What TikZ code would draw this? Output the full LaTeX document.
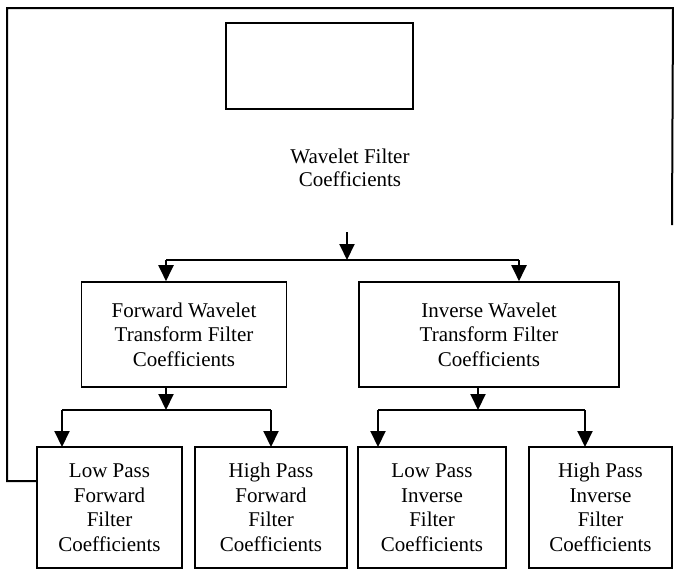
\documentclass[tikz,border=0pt]{standalone}
\usepackage{fontspec}
\setmainfont{Liberation Serif}
\usetikzlibrary{arrows.meta, positioning, calc}

\begin{document}
\begin{tikzpicture}[
    x=1pt, y=-1pt,
    blk/.style={draw, line width=1.6pt, align=center, inner sep=0pt, minimum height=121pt,
      font=\fontsize{21}{24.5}\selectfont},
    arr/.style={-{Triangle[length=16pt, width=15pt]}, line width=2pt},
    loop/.style={line width=2pt}
]
\useasboundingbox (0,0) rectangle (674,571);

% top block and its label
\node[blk, minimum width=187pt, minimum height=86pt] (src) at (319.5,66) {};
\node[align=center, font=\fontsize{21}{23}\selectfont] (wfc) at (350,168) {Wavelet Filter\\Coefficients};

% second level
\node[blk, minimum width=205pt, minimum height=105pt] (fwd) at (184,334.5) {Forward Wavelet\\Transform Filter\\Coefficients};
\node[blk, minimum width=260pt, minimum height=105pt] (inv) at (489,334.5) {Inverse Wavelet\\Transform Filter\\Coefficients};

% bottom level
\node[blk, minimum width=145pt] (lpf) at (109.5,507.5) {Low Pass\\Forward\\Filter\\Coefficients};
\node[blk, minimum width=152pt] (hpf) at (271,507.5) {High Pass\\Forward\\Filter\\Coefficients};
\node[blk, minimum width=148pt] (lpi) at (432,507.5) {Low Pass\\Inverse\\Filter\\Coefficients};
\node[blk, minimum width=143pt] (hpi) at (600.5,507.5) {High Pass\\Inverse\\Filter\\Coefficients};

% split points
\coordinate (feed) at (347,232);
\coordinate (split) at (347,260);
\coordinate (jl) at (166,260);
\coordinate (jr) at (519,260);
\coordinate (fsplit) at (166,410);
\coordinate (isplit) at (478,410);
\coordinate (loopend) at (672,225);

\draw[arr] (feed) -- (split);
\draw[line width=2pt] (jl) -- (jr);
\draw[arr] (jl) -- (jl |- fwd.north);
\draw[arr] (jr) -- (jr |- inv.north);

\draw[arr] (fwd.south -| fsplit) -- (fsplit);
\draw[line width=2pt] (62,410) -- (271,410);
\draw[arr] (62,410) -- (62,447);
\draw[arr] (271,410) -- (271,447);

\draw[arr] (inv.south -| isplit) -- (isplit);
\draw[line width=2pt] (378,410) -- (585,410);
\draw[arr] (378,410) -- (378,447);
\draw[arr] (585,410) -- (585,447);

% outer feedback line
\draw[loop] ([yshift=26.5pt]lpf.west) -- (7,481) -- (7,8) -- (673,8) -- (loopend);
\end{tikzpicture}
\end{document}
